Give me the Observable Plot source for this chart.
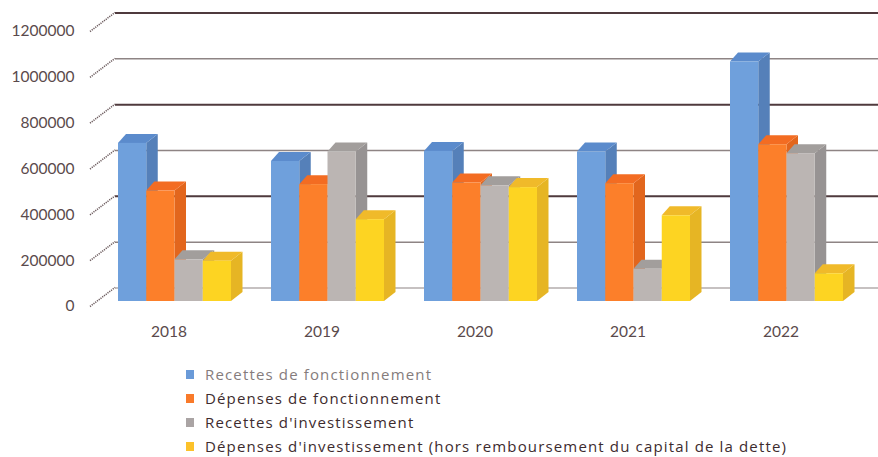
<!DOCTYPE html>
<html><head><meta charset="utf-8">
<script src="https://cdn.jsdelivr.net/npm/d3@7"></script>
<script src="https://cdn.jsdelivr.net/npm/@observablehq/plot@0.6"></script>
<style>
body{margin:0;background:#fff;overflow:hidden;}
#legend{font-family:"Open Sans", Lato, sans-serif;font-size:15px;letter-spacing:1.15px;padding:12px 0 0 186px;color:#3d2b2e;}
.item{height:24px;line-height:24px;display:flex;align-items:center;white-space:nowrap;}
.sw{width:8px;height:9px;margin-right:11px;flex:none;}
</style></head><body><div id="chart"></div><div id="legend"></div>
<script>
const years = ["2018", "2019", "2020", "2021", "2022"];
const seriesNames = [
  "Recettes de fonctionnement",
  "Dépenses de fonctionnement",
  "Recettes d'investissement",
  "Dépenses d'investissement (hors remboursement du capital de la dette)"
];
const recettesFonct = [690000, 611000, 655000, 652000, 1045000];
const depensesFonct = [482000, 510000, 517000, 514000, 684000];
const recettesInv   = [182000, 652000, 505000, 141000, 645000];
const depensesInv   = [176000, 357000, 497000, 374000, 121000];
const yTicks = [0, 200000, 400000, 600000, 800000, 1000000, 1200000];

const seriesValues = [recettesFonct, depensesFonct, recettesInv, depensesInv];
const rows = years.flatMap((year, i) => seriesNames.map((s, j) => ({year, series: s, value: seriesValues[j][i]})));

const palette = [
  {front: "#6fa0dc", side: "#5580b9", top: "#5b8bcc", key: "#6a9ad8", text: "#857c7c"},
  {front: "#fc7f2a", side: "#e2661d", top: "#f36c22", key: "#f97a2a", text: "#3d2b2e"},
  {front: "#bbb5b3", side: "#979393", top: "#a29e9c", key: "#aaa4a4", text: "#3d2b2e"},
  {front: "#fdd422", side: "#e6b524", top: "#f0ba2a", key: "#fcc22a", text: "#3d2b2e"}
];
const DX = 11.5, DXL = 8, DY = -9;

function bars3d(index, scales, values, dimensions) {
  const {x, y} = scales;
  const sub = d3.scaleBand(seriesNames, [0, x.bandwidth()]);
  const g = d3.create("svg:g");
  for (const r of rows) {
    const c = palette[seriesNames.indexOf(r.series)];
    const x0 = x(r.year) + sub(r.series), x1 = x0 + sub.bandwidth();
    const yt = y(r.value), yb = y(0);
    g.append("path").attr("fill", c.side)
      .attr("d", `M${x1},${yb}L${x1 + DX},${yb + DY}L${x1 + DX},${yt + DY}L${x1},${yt}Z`);
    g.append("path").attr("fill", c.top)
      .attr("d", `M${x0},${yt}L${x0 + DXL},${yt + DY}L${x1 + DX},${yt + DY}L${x1},${yt}Z`);
    g.append("rect").attr("fill", c.front)
      .attr("x", x0).attr("y", yt).attr("width", x1 - x0).attr("height", yb - yt);
  }
  return g.node();
}

function diagonals(index, scales, values, dimensions) {
  const {y} = scales;
  const ml = dimensions.marginLeft;
  const g = d3.create("svg:g").attr("stroke", "#6e5e60").attr("stroke-width", 1.6).attr("stroke-dasharray", "1.2,1");
  for (const t of yTicks) {
    g.append("line").attr("x1", ml - 25).attr("y1", y(t) + 5.5).attr("x2", ml).attr("y2", y(t) - 13.5);
  }
  return g.node();
}

const gridDark = yTicks.filter((t, i) => i % 2 === 0 && t > 0);
const gridMid = yTicks.filter((t, i) => i % 2 === 1);
const gridBase = yTicks.filter(t => t === 0);

const chart = Plot.plot({
  width: 878,
  height: 350,
  marginLeft: 115,
  marginRight: 0,
  marginTop: 26,
  marginBottom: 49,
  style: {fontFamily: "Lato, 'Open Sans', sans-serif", fontSize: "15.5px", background: "#fff"},
  x: {type: "band", domain: years, range: [115, 845.6], paddingInner: 0.263, paddingOuter: 0.013, align: 0.5},
  y: {domain: [0, 1200000]},
  marks: [
    Plot.barY(rows, {x: "year", y: "value", fill: "none", stroke: "none"}),
    Plot.ruleY(gridBase, {stroke: "#b3adad", strokeWidth: 1.3, dy: -13.5}),
    Plot.ruleY(gridMid, {stroke: "#8e8484", strokeWidth: 1.5, dy: -13.5}),
    Plot.ruleY(gridDark, {stroke: "#4f3a3d", strokeWidth: 2, dy: -13.5}),
    diagonals,
    bars3d,
    Plot.axisY({ticks: yTicks, tickSize: 0, tickPadding: 41, dy: 5, tickFormat: d => String(d), label: null, fill: "#5a4a4c"}),
    Plot.axisX({tickSize: 0, tickPadding: 24, dx: -6, label: null, fill: "#5a4a4c"})
  ]
});
document.getElementById("chart").appendChild(chart);

const legend = d3.select("#legend");
seriesNames.forEach((name, i) => {
  const it = legend.append("div").attr("class", "item");
  it.append("div").attr("class", "sw").style("background", palette[i].key);
  it.append("span").style("color", palette[i].text).text(name);
});
</script>
</body></html>
